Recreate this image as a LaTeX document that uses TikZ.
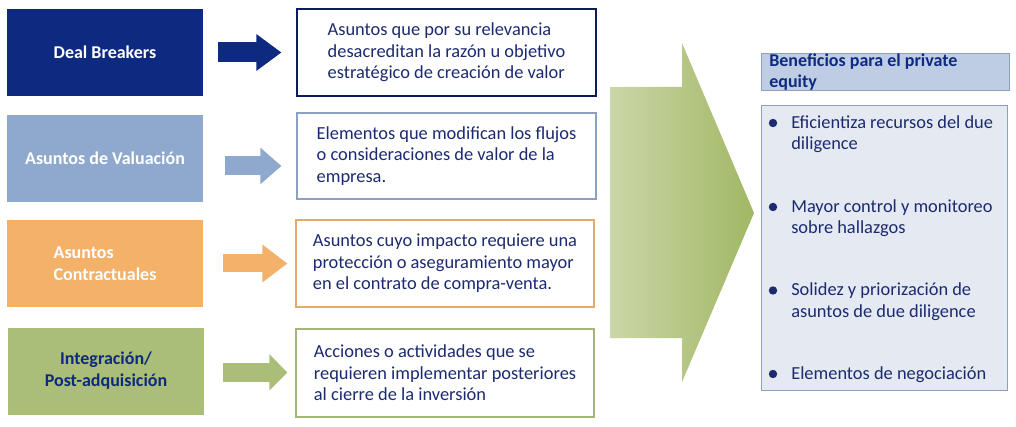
\documentclass[tikz,border=0pt]{standalone}
\usepackage{fontspec}
\setmainfont{Carlito}
\usetikzlibrary{arrows.meta, shapes.geometric}
\definecolor{dbnavy}{RGB}{14,42,128}
\definecolor{valblue}{RGB}{143,169,206}
\definecolor{conorange}{RGB}{244,177,106}
\definecolor{intgreen}{RGB}{170,190,120}
\definecolor{txtnavy}{RGB}{28,42,112}
\definecolor{hdrfill}{RGB}{191,205,228}
\definecolor{lstfill}{RGB}{228,233,242}
\definecolor{lstline}{RGB}{140,160,195}
\tikzset{
    x=0.75pt, y=-0.75pt, % one unit is one pixel of the reference, y grows downwards
    every node/.style={font=\fontsize{13.8pt}{16.2pt}\selectfont},
    lbl/.style={minimum width=147pt, minimum height=65.25pt, align=center,
        font=\fontsize{13.5pt}{16.5pt}\selectfont\bfseries, text=white}, % coloured boxes on the left
    desc/.style={draw, fill=white, minimum width=224.25pt, minimum height=65.25pt,
        align=left, text=txtnavy, line width=0.8pt}, % framed description boxes
    blk/.style={line width=#1}, % body of the small block arrows
    bullet/.style={circle, fill=txtnavy, inner sep=0pt, minimum size=6.3pt},
    item/.style={anchor=north west, inner sep=0pt, align=left, text=txtnavy},
}
\begin{document}
\begin{tikzpicture}
\useasboundingbox (0,0) rectangle (1016,427);
% left column
\node[lbl, fill=dbnavy] (db) at (105,52.5) {Deal Breakers};
\node[lbl, fill=valblue] (val) at (105,158.5) {Asuntos de Valuación};
\node[lbl, fill=conorange, align=left] (con) at (105,263.5) {Asuntos\\Contractuales};
\node[lbl, fill=intgreen, text=dbnavy] (int) at (106,371) {Integración/\\Post-adquisición};
% descriptions
\node[desc, draw=dbnavy!70!black] (dbd) at (446.5,52.5) {Asuntos que por su relevancia\\desacreditan la razón u objetivo\\estratégico de creación de valor};
\node[desc, draw=valblue!80!gray, minimum height=64.5pt] (vald) at (446.5,156) {Elementos que modifican los flujos\\o consideraciones de valor de la\\empresa.};
\node[desc, draw=conorange!85!gray, minimum width=223.5pt] (cond) at (445,263.5) {Asuntos cuyo impacto requiere una\\protección o aseguramiento mayor\\en el contrato de compra-venta.};
\node[desc, draw=intgreen!85!gray, minimum width=223.5pt, minimum height=66pt] (intd) at (445,373) {Acciones o actividades que se\\requieren implementar posteriores\\al cierre de la inversión};
% block arrows between the columns
\draw[dbnavy, blk=15pt, -{Triangle[length=18.75pt, width=26.25pt]},
    shorten <=11.25pt, shorten >=11.25pt] (db.east) -- (dbd.west);
\draw[valblue, blk=14.25pt, -{Triangle[length=15.75pt, width=26.25pt]},
    shorten <=16.5pt, shorten >=11.25pt] ([yshift=-5.6pt]val.east) -- ([yshift=-5.6pt]val.east -| vald.west);
\draw[conorange, blk=13.5pt, -{Triangle[length=18.75pt, width=27pt]},
    shorten <=15pt, shorten >=6pt] (con.east) -- (con.east -| cond.west);
\draw[intgreen, blk=14.25pt, -{Triangle[length=13.5pt, width=26.25pt]},
    shorten <=14.25pt, shorten >=6pt] ([yshift=-1.1pt]int.east) -- ([yshift=-1.1pt]int.east -| intd.west);
% big arrow
\shade[left color={rgb,255:red,204;green,214;blue,168}, right color={rgb,255:red,160;green,184;blue,100}]
    (610,87) -- (682,87) -- (682,43) -- (754,213) -- (682,382) -- (682,338) -- (610,338) -- cycle;
% benefits
\node[anchor=north west, draw=lstline, fill=hdrfill, minimum width=186pt, minimum height=27.75pt,
    text width=174pt, inner xsep=6pt, inner ysep=0pt, align=flush left, font=\fontsize{13.5pt}{16pt}\selectfont\bfseries,
    text=dbnavy] (hdr) at (761,53) {Beneficios para el private\\equity};
\node[anchor=north west, draw=lstline, fill=lstfill, minimum width=184.5pt, minimum height=213.75pt] (lst) at (761,105) {};
\node[bullet] (b1) at (773,123) {};
\node[bullet] (b2) at (773,207) {};
\node[bullet] (b3) at (773,290.5) {};
\node[bullet] (b4) at (773,374) {};
\node[item] (i1) at (791,115) {Eficientiza recursos del due\\diligence};
\node[item] (i2) at (791,199) {Mayor control y monitoreo\\sobre hallazgos};
\node[item] (i3) at (791,282.5) {Solidez y priorización de\\asuntos de due diligence};
\node[item] (i4) at (791,366) {Elementos de negociación};
\end{tikzpicture}
\end{document}
